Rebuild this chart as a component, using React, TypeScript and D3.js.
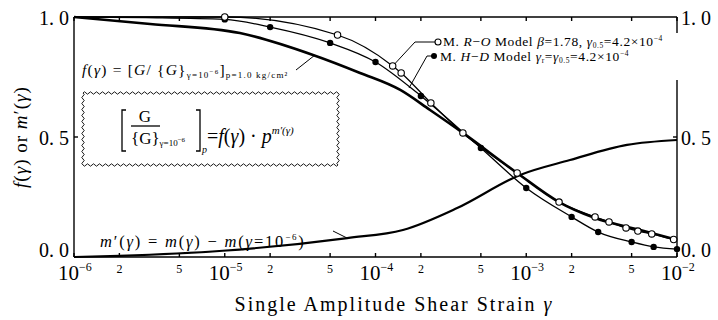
import React from "react";
import * as d3 from "d3";

// (strain, normalised value)
const roStrain = [1e-5, 5.6e-5, 1.3e-4, 1.48e-4, 2.33e-4, 3.8e-4, 8.7e-4, 1.65e-3, 2.86e-3, 3.54e-3, 4.59e-3, 5.5e-3, 6.8e-3, 9.5e-3];
const roValue = [1.0, 0.925, 0.796, 0.767, 0.642, 0.517, 0.35, 0.229, 0.167, 0.146, 0.121, 0.108, 0.096, 0.073];

const hdStrain = [1e-5, 2e-5, 5e-5, 1e-4, 2e-4, 5e-4, 1e-3, 2e-3, 3e-3, 5e-3, 7e-3, 1e-2];
const hdValue = [0.99, 0.958, 0.892, 0.8125, 0.671, 0.454, 0.2875, 0.167, 0.104, 0.0625, 0.042, 0.033];

// model lines start flat at 1.0
const roLineStrain = [1e-6, 3e-6, ...roStrain, 1e-2];
const roLineValue = [1.0, 1.0, ...roValue, 0.07];
const hdLineStrain = [1e-6, 3e-6, ...hdStrain];
const hdLineValue = [1.0, 0.997, ...hdValue];

// measured f(γ) (thick)
const fStrain = [1e-6, 3.2e-6, 1.26e-5, 3.85e-5, 7.9e-5, 1.46e-4, 2.3e-4, 3.8e-4, 8.7e-4, 1.65e-3, 2.86e-3, 5.7e-3, 1e-2];
const fValue = [1.0, 0.971, 0.933, 0.842, 0.767, 0.696, 0.6125, 0.517, 0.35, 0.229, 0.1625, 0.1125, 0.071];

// m'(γ)
const mStrain = [1e-6, 2e-6, 9.7e-6, 6.5e-5, 1.52e-4, 3.48e-4, 9.1e-4, 1.95e-3, 4.66e-3, 1e-2];
const mValue = [0, 0.005, 0.026, 0.079, 0.1125, 0.204, 0.342, 0.404, 0.467, 0.4875];

const decades = [1e-6, 1e-5, 1e-4, 1e-3, 1e-2];
const decadeExp = ["6", "5", "4", "3", "2"];
const minorMult = [2, 5];
const yTicks = [0, 0.5, 1];
const yTickLabels = ["0. 0", "0. 5", "1. 0"];

const FONT = "'Liberation Serif', 'DejaVu Serif', serif";

const zip = (a: number[], b: number[]) => a.map((v, i) => [v, b[i]] as [number, number]);

// wavy border segment
function wave(x0: number, y0: number, x1: number, y1: number) {
  const len = Math.hypot(x1 - x0, y1 - y0);
  const n = Math.round(len / 3);
  const ux = (x1 - x0) / len, uy = (y1 - y0) / len;
  const px = -uy, py = ux;
  let d = `M${x0},${y0}`;
  for (let i = 0; i < n; i++) {
    const tm = ((i + 0.5) / n) * len, t1 = ((i + 1) / n) * len;
    const s = i % 2 ? 2.4 : -2.4;
    d += ` Q${x0 + ux * tm + px * s},${y0 + uy * tm + py * s} ${x0 + ux * t1},${y0 + uy * t1}`;
  }
  return d;
}

export default function App() {
  const x = d3.scaleLog().domain([1e-6, 1e-2]).range([74, 677]);
  const y = d3.scaleLinear().domain([0, 1]).range([257, 17]);
  const line = d3
    .line<[number, number]>()
    .x(d => x(d[0]))
    .y(d => y(d[1]))
    .curve(d3.curveMonotoneX);

  const minorTicks: number[] = [];
  decades.slice(0, -1).forEach(d => minorMult.forEach(m => minorTicks.push(d * m)));

  const roPts = zip(roStrain, roValue);
  const hdPts = zip(hdStrain, hdValue);

  const x0 = x.range()[0], x1 = x.range()[1];
  const y0 = y(0), y1 = y(1);

  const bx0 = 83, bx1 = 338, by0 = 93, by1 = 165;

  return (
    <svg width={718} height={320} style={{ position: "absolute", left: 0, top: 0, background: "#fff" }} fontFamily={FONT}>
      <rect width={718} height={320} fill="#fff" />

      {/* frame */}
      <g stroke="#000" strokeWidth={1.4} fill="none">
        <line x1={x0} y1={y1} x2={x0} y2={y0} />
        <line x1={x0} y1={y0} x2={x1} y2={y0} />
        <line x1={x0} y1={y1} x2={x1} y2={y1} />
        <line x1={x1} y1={y1} x2={x1} y2={33} />
        <line x1={x1} y1={80} x2={x1} y2={y0} />
        {[...decades, ...minorTicks].map(t => (
          <g key={t}>
            <line x1={x(t)} x2={x(t)} y1={y0} y2={y0 - 4} />
            <line x1={x(t)} x2={x(t)} y1={y1} y2={y1 + 4} />
          </g>
        ))}
        <line x1={x0} x2={x0 + 4} y1={y(0.5)} y2={y(0.5)} />
        <line x1={x1} x2={x1 - 4} y1={y(0.5)} y2={y(0.5)} />
      </g>

      {/* y tick labels both sides */}
      {yTicks.map((t, i) => (
        <g key={t} fontSize={20}>
          <text x={69} y={t === 0 ? y(t) : y(t) + 8} textAnchor="end">{yTickLabels[i]}</text>
          <text x={681} y={t === 0 ? y(t) : y(t) + 8}>{yTickLabels[i]}</text>
        </g>
      ))}

      {/* x tick labels */}
      {decades.map((d, i) => (
        <text key={d} x={x(d) - 16} y={280} fontSize={21}>
          10<tspan dy={-9} fontSize={12}>−{decadeExp[i]}</tspan>
        </text>
      ))}
      {minorTicks.map(t => (
        <text key={t} x={x(t)} y={273} fontSize={12} textAnchor="middle">
          {Math.round(t / Math.pow(10, Math.floor(Math.log10(t) + 1e-9)))}
        </text>
      ))}

      {/* axis titles */}
      <text x={394} y={311} fontSize={20} textAnchor="middle" letterSpacing={2}>
        Single Amplitude Shear Strain <tspan fontStyle="italic">γ</tspan>
      </text>
      <text transform="translate(27,137) rotate(-90)" fontSize={19} textAnchor="middle" letterSpacing={1}>
        <tspan fontStyle="italic">f</tspan>(<tspan fontStyle="italic">γ</tspan>) or <tspan fontStyle="italic">m</tspan>′(<tspan fontStyle="italic">γ</tspan>)
      </text>

      {/* curves */}
      <g fill="none" stroke="#000" strokeLinejoin="round">
        <path d={line(zip(mStrain, mValue)) || ""} strokeWidth={2.2} />
        <path d={line(zip(fStrain, fValue)) || ""} strokeWidth={2.6} />
        <path d={line(zip(roLineStrain, roLineValue)) || ""} strokeWidth={1.3} />
        <path d={line(zip(hdLineStrain, hdLineValue)) || ""} strokeWidth={1.3} />
      </g>

      {/* markers */}
      {hdPts.map(([s, v]) => (
        <circle key={"h" + s} cx={x(s)} cy={y(v)} r={3.2} fill="#000" />
      ))}
      {roPts.map(([s, v]) => (
        <circle key={"r" + s} cx={x(s)} cy={y(v)} r={3.2} fill="#fff" stroke="#000" strokeWidth={1.1} />
      ))}

      {/* legend with leaders */}
      <g stroke="#000" strokeWidth={1} fill="none">
        <polyline points={`${x(roStrain[2]) + 2},${y(roValue[2]) - 2} 415,42 435,42`} />
        <polyline points={`409,88 427,56 432,56`} />
        <line x1={296} y1={70} x2={315} y2={55} />
        <line x1={333} y1={231} x2={347} y2={238} />
      </g>
      <circle cx={438} cy={42} r={3} fill="#fff" stroke="#000" strokeWidth={1.1} />
      <circle cx={434} cy={56} r={3} fill="#000" />
      <text x={443} y={46} fontSize={13.5} letterSpacing={0.6}>
        M. <tspan fontStyle="italic">R</tspan>−<tspan fontStyle="italic">O</tspan> Model <tspan fontStyle="italic">β</tspan>=1.78, <tspan fontStyle="italic">γ</tspan>
        <tspan fontSize={7.5} dy={2}>0.5</tspan>
        <tspan dy={-2}>=4.2×10</tspan>
        <tspan fontSize={7.5} dy={-5}>−4</tspan>
      </text>
      <text x={440} y={61} fontSize={13.5} letterSpacing={0.6}>
        M. <tspan fontStyle="italic">H</tspan>−<tspan fontStyle="italic">D</tspan> Model <tspan fontStyle="italic">γ</tspan>
        <tspan fontSize={7.5} dy={2}>r</tspan>
        <tspan dy={-2}>=</tspan>
        <tspan fontStyle="italic">γ</tspan>
        <tspan fontSize={7.5} dy={2}>0.5</tspan>
        <tspan dy={-2}>=4.2×10</tspan>
        <tspan fontSize={7.5} dy={-5}>−4</tspan>
      </text>

      {/* f definition */}
      <text x={82} y={75} fontSize={15.5} letterSpacing={1.2}>
        <tspan fontStyle="italic">f</tspan>(<tspan fontStyle="italic">γ</tspan>) = [<tspan fontStyle="italic">G</tspan>/ {"{"}
        <tspan fontStyle="italic">G</tspan>{"}"}
        <tspan fontSize={9} dy={3}>γ=10</tspan>
        <tspan fontSize={7} dy={-4}>−6</tspan>
        <tspan dy={1}>]</tspan>
        <tspan fontSize={9} dy={3}>p=1.0 kg/cm²</tspan>
      </text>

      {/* m' definition */}
      <text x={100} y={247} fontSize={16.5} letterSpacing={1.8}>
        <tspan fontStyle="italic">m</tspan>′(<tspan fontStyle="italic">γ</tspan>) = <tspan fontStyle="italic">m</tspan>(<tspan fontStyle="italic">γ</tspan>) − <tspan fontStyle="italic">m</tspan>(<tspan fontStyle="italic">γ</tspan>=10
        <tspan fontSize={9} dy={-7}>−6</tspan>
        <tspan dy={7}>)</tspan>
      </text>

      {/* wavy box */}
      <g fill="none" stroke="#000" strokeWidth={0.9}>
        <path d={wave(bx0, by0, bx1, by0)} />
        <path d={wave(bx1, by0, bx1, by1)} />
        <path d={wave(bx1, by1, bx0, by1)} />
        <path d={wave(bx0, by1, bx0, by0)} />
      </g>
      <g stroke="#000" strokeWidth={1.3} fill="none">
        <path d="M126,110 H122 V151 H126" />
        <path d="M196,110 H200 V151 H196" />
        <line x1={131} x2={160} y1={126} y2={126} />
      </g>
      <text x={145} y={122} fontSize={17} textAnchor="middle">G</text>
      <text x={131} y={144} fontSize={17}>
        {"{G}"}
        <tspan fontSize={9} dy={2}>γ=10</tspan>
        <tspan fontSize={7} dy={-4}>−6</tspan>
      </text>
      <text x={202} y={153} fontSize={10} fontStyle="italic">p</text>
      <text x={207} y={143} fontSize={20}>
        =<tspan fontStyle="italic">f</tspan>(<tspan fontStyle="italic">γ</tspan>) · <tspan fontStyle="italic">p</tspan>
        <tspan fontSize={11} dy={-9} fontStyle="italic">m′(γ)</tspan>
      </text>
    </svg>
  );
}
